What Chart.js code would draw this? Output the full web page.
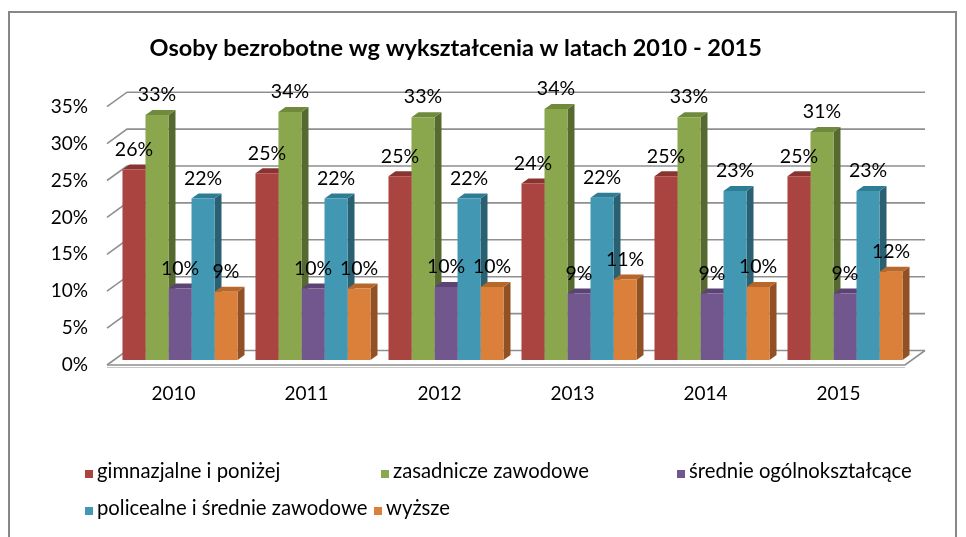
<!DOCTYPE html>
<html lang="pl">

<head>
    <meta charset="UTF-8">
    <script src="https://cdn.jsdelivr.net/npm/chart.js"></script>
    <title>Osoby bezrobotne wg wykształcenia</title>
    <style>
        body { margin: 0; background: #fff; }
        #ramka { position: relative; width: 966px; height: 537px; overflow: hidden; }
        #obramowanie {
            position: absolute; left: 8px; top: 11px; width: 945px; height: 600px;
            border: 2px solid #878787;
        }
        #legenda {
            position: absolute; left: 85px; top: 452px;
            display: grid; grid-template-columns: 296px 296px 296px;
            font-family: Lato, sans-serif; font-size: 20.3px; color: #000;
        }
        #legenda div { height: 37px; line-height: 37px; white-space: nowrap; }
        #legenda div:nth-child(5) { margin-left: -7px; }
        #legenda span.kwadrat {
            display: inline-block; width: 8px; height: 8px; margin-right: 4px; vertical-align: 0px;
        }
    </style>
</head>

<body>
    <div id="ramka">
        <div id="obramowanie"></div>
        <canvas id="wykres" width="966" height="537"></canvas>
        <div id="legenda"></div>
    </div>

<script>
    // dane (w %)
    const lata = ['2010', '2011', '2012', '2013', '2014', '2015'];
    const gimnazjalne = [25.8, 25.3, 24.9, 23.9, 24.9, 24.9];
    const zasadnicze = [33.2, 33.6, 32.9, 34.0, 32.9, 30.9];
    const srednieOgolne = [9.7, 9.7, 9.9, 9.0, 9.0, 9.0];
    const policealne = [21.9, 21.9, 21.9, 22.0, 22.9, 22.9];
    const wyzsze = [9.25, 9.7, 9.9, 10.9, 9.9, 11.95];
    const nazwySerii = ['gimnazjalne i poniżej', 'zasadnicze zawodowe', 'średnie ogólnokształcące',
        'policealne i średnie zawodowe', 'wyższe'];
    const ticksY = [0, 5, 10, 15, 20, 25, 30, 35];

    // kolory: przod, gora, bok
    const kolory = [
        ['#AA4441', '#8A3432', '#7A2E2C'],
        ['#8BA74E', '#6F8A3B', '#566A2F'],
        ['#72578F', '#5B4473', '#4C3A61'],
        ['#4298B3', '#2F7D95', '#2A6172'],
        ['#DB803A', '#B8672B', '#925125']
    ];

    const GLEB_X = 7, GLEB_Y = 5;          // glebokosc slupka
    const TYL_X = 13.5, TYL_Y = 9.5;       // sciana tylna
    const PRZOD_X = 6.5, PRZOD_Y = 5;      // krawedz podlogi

    const plugin3d = {
        id: 'efekt3d',
        beforeDatasetsDraw(chart) {
            const ctx = chart.ctx;
            const y = chart.scales.y;
            const a = chart.chartArea;
            ctx.save();
            ctx.strokeStyle = '#8f8f8f';
            ctx.lineWidth = 1.6;
            // podloga
            const y0 = y.getPixelForValue(0);
            ctx.beginPath();
            ctx.moveTo(a.left - PRZOD_X, y0 + PRZOD_Y);
            ctx.lineTo(a.right - PRZOD_X, y0 + PRZOD_Y);
            ctx.lineTo(a.right + TYL_X, y0 - TYL_Y);
            ctx.stroke();
            ctx.strokeStyle = '#c8c8c8';
            ctx.lineWidth = 1;
            ctx.beginPath();
            ctx.moveTo(a.left - PRZOD_X, y0 + PRZOD_Y + 2.5);
            ctx.lineTo(a.right - PRZOD_X, y0 + PRZOD_Y + 2.5);
            ctx.stroke();
            ctx.strokeStyle = '#8f8f8f';
            ctx.lineWidth = 1.6;
            // siatka na scianie tylnej i bocznej
            ticksY.forEach(function (v) {
                const py = y.getPixelForValue(v);
                ctx.beginPath();
                ctx.moveTo(a.left - PRZOD_X, py + PRZOD_Y);
                ctx.lineTo(a.left + TYL_X, py - TYL_Y);
                ctx.lineTo(a.right + TYL_X, py - TYL_Y);
                ctx.stroke();
            });
            // boki i gory slupkow
            for (let j = 0; j < lata.length; j++) {
                for (let i = 0; i < chart.data.datasets.length; i++) {
                    const bar = chart.getDatasetMeta(i).data[j];
                    const x0 = bar.x - bar.width / 2, x1 = bar.x + bar.width / 2;
                    const top = bar.y, base = bar.base;
                    ctx.fillStyle = kolory[i][2];
                    ctx.beginPath();
                    ctx.moveTo(x1, top);
                    ctx.lineTo(x1 + GLEB_X, top - GLEB_Y);
                    ctx.lineTo(x1 + GLEB_X, base - GLEB_Y);
                    ctx.lineTo(x1, base);
                    ctx.closePath();
                    ctx.fill();
                    ctx.fillStyle = kolory[i][1];
                    ctx.beginPath();
                    ctx.moveTo(x0, top);
                    ctx.lineTo(x0 + GLEB_X, top - GLEB_Y);
                    ctx.lineTo(x1 + GLEB_X, top - GLEB_Y);
                    ctx.lineTo(x1, top);
                    ctx.closePath();
                    ctx.fill();
                }
            }
            ctx.restore();
        },
        afterDatasetsDraw(chart) {
            const ctx = chart.ctx;
            ctx.save();
            ctx.font = '19.5px Lato';
            ctx.fillStyle = '#000';
            ctx.textAlign = 'center';
            ctx.textBaseline = 'middle';
            chart.data.datasets.forEach(function (ds, i) {
                chart.getDatasetMeta(i).data.forEach(function (bar, j) {
                    ctx.fillText(Math.round(ds.data[j]) + '%', bar.x, bar.y - 20);
                });
            });
            ctx.restore();
        }
    };

    const serie = [gimnazjalne, zasadnicze, srednieOgolne, policealne, wyzsze];

    const dane = {
        labels: lata,
        datasets: serie.map(function (s, i) {
            return {
                label: nazwySerii[i],
                data: s,
                backgroundColor: kolory[i][0],
                borderWidth: 0,
                categoryPercentage: 0.865,
                barPercentage: 1
            };
        })
    };

    const config = {
        type: 'bar',
        data: dane,
        plugins: [plugin3d],
        options: {
            responsive: false,
            devicePixelRatio: 1,
            animation: false,
            layout: { padding: { left: 0, right: 54.5, top: 0, bottom: 127 } },
            plugins: {
                legend: { display: false },
                tooltip: { enabled: false },
                title: {
                    display: true,
                    text: 'Osoby bezrobotne wg wykształcenia w latach 2010 - 2015',
                    color: '#000',
                    font: { family: 'Lato', size: 23.5, weight: 'bold', lineHeight: 1.2 },
                    padding: { top: 34, bottom: 39.5 }
                }
            },
            scales: {
                x: {
                    grid: { display: false, drawTicks: false },
                    border: { display: false },
                    ticks: {
                        color: '#000',
                        font: { family: 'Lato', size: 19 },
                        padding: 22,
                        labelOffset: -6.5,
                        maxRotation: 0
                    },
                    afterFit: function (scale) { scale.height = 50; }
                },
                y: {
                    min: 0,
                    max: 35,
                    grid: { display: false, drawTicks: false },
                    border: { display: false },
                    ticks: {
                        stepSize: 5,
                        color: '#000',
                        font: { family: 'Lato', size: 19 },
                        padding: 25.5,
                        labelOffset: 5,
                        callback: function (v) { return v + '%'; }
                    },
                    afterFit: function (scale) { scale.width = 113.5; }
                }
            }
        }
    };

    let wykres = new Chart(document.getElementById('wykres'), config);

    // legenda jako HTML, w kolumnach jak w oryginale
    const legenda = document.getElementById('legenda');
    dane.datasets.forEach(function (ds) {
        const el = document.createElement('div');
        const kw = document.createElement('span');
        kw.className = 'kwadrat';
        kw.style.background = ds.backgroundColor;
        el.appendChild(kw);
        el.appendChild(document.createTextNode(ds.label));
        legenda.appendChild(el);
    });
</script>
</body>

</html>
